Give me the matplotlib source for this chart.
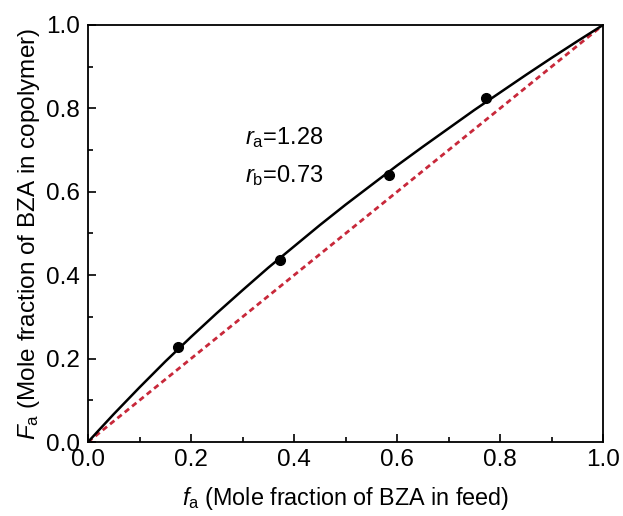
import numpy as np
import matplotlib
matplotlib.use("Agg")
import matplotlib.pyplot as plt
from matplotlib.ticker import MultipleLocator, FormatStrFormatter

plt.rcParams['font.family'] = 'Liberation Sans'
plt.rcParams['mathtext.fontset'] = 'custom'
plt.rcParams['mathtext.rm'] = 'Liberation Sans'
plt.rcParams['mathtext.it'] = 'Liberation Sans:italic'

# experimental points
f_exp = [0.175, 0.372, 0.585, 0.773]
F_exp = [0.228, 0.437, 0.641, 0.825]

# fitted composition curve
f_fit = [0.0, 0.02, 0.05, 0.1, 0.15, 0.2, 0.25, 0.3, 0.35, 0.4, 0.45, 0.5,
         0.55, 0.6, 0.65, 0.7, 0.75, 0.8, 0.85, 0.9, 0.95, 1.0]
F_fit = [0.0, 0.027, 0.067, 0.131, 0.193, 0.252, 0.309, 0.364, 0.418, 0.469, 0.520, 0.569,
         0.616, 0.663, 0.708, 0.752, 0.796, 0.838, 0.880, 0.921, 0.961, 1.0]

# ideal azeotropic line
f_ideal = [0.0, 1.0]
F_ideal = [0.0, 1.0]

fig = plt.figure(figsize=(6.23, 5.16), dpi=100)
ax = fig.add_axes([0.1413, 0.1434, 0.8267, 0.8082])

ax.plot(f_ideal, F_ideal, color='#c8283a', linestyle=(0, (2.0, 1.4)), linewidth=2.0)
ax.plot(f_fit, F_fit, color='black', linewidth=1.8)
ax.plot(f_exp, F_exp, 'o', color='black', markersize=7)

ax.set_xlim(0, 1)
ax.set_ylim(0, 1)
ax.xaxis.set_major_locator(MultipleLocator(0.2))
ax.yaxis.set_major_locator(MultipleLocator(0.2))
ax.xaxis.set_minor_locator(MultipleLocator(0.1))
ax.yaxis.set_minor_locator(MultipleLocator(0.1))
ax.tick_params(which='both', direction='in', labelsize=17.5, width=1.2)
ax.tick_params(which='major', length=6)
ax.tick_params(which='minor', length=3.5)
ax.tick_params(axis='x', pad=5)
ax.tick_params(axis='y', pad=6)
ax.xaxis.set_major_formatter(FormatStrFormatter('%.1f'))
ax.yaxis.set_major_formatter(FormatStrFormatter('%.1f'))
for s in ax.spines.values():
    s.set_linewidth(1.3)

ax.set_xlabel(r'$\mathit{f}_\mathrm{a}$ (Mole fraction of BZA in feed)', fontsize=16.8, labelpad=10)
ax.set_ylabel(r'$\mathit{F}_\mathrm{a}$ (Mole fraction of BZA in copolymer)', fontsize=17.5, labelpad=3)

ax.text(0.305, 0.73, r'$\mathit{r}_\mathrm{a}$=1.28', fontsize=17, va='center')
ax.text(0.305, 0.64, r'$\mathit{r}_\mathrm{b}$=0.73', fontsize=17, va='center')

fig.savefig('out.png', dpi=100)
